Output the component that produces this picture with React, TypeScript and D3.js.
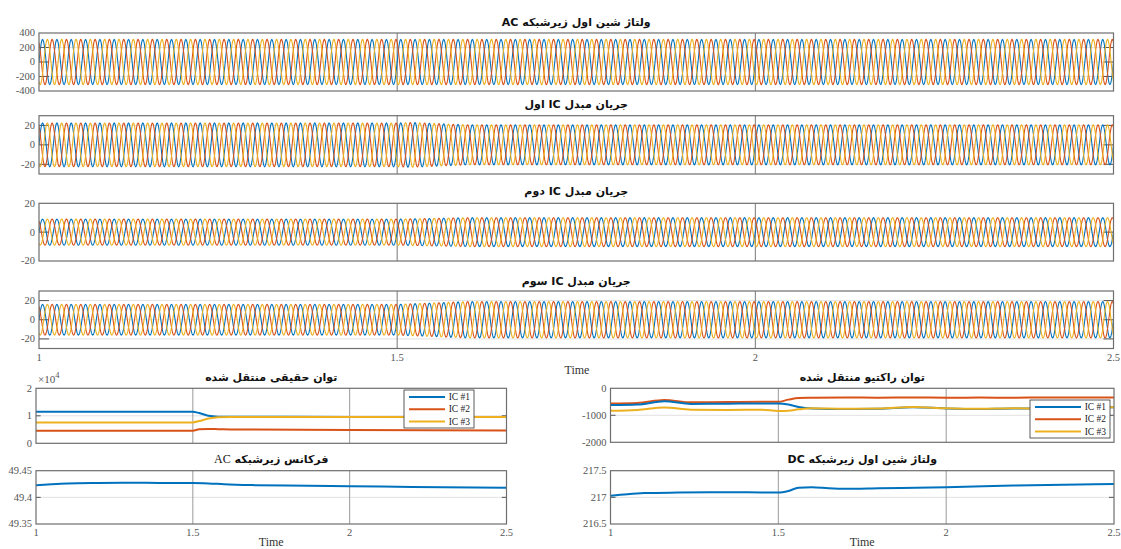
import React from 'react';
import * as d3 from 'd3';

const W = 1121;
const H = 549;
const BLUE = '#0072BD';
const RED = '#D95319';
const YEL = '#EDB120';
const NUM_FONT = '"Liberation Serif", "DejaVu Serif", serif';
const TITLE_FONT = '"DejaVu Sans", "Noto Sans", sans-serif';

// time axis
const timeDomain = [1, 2.5];
const xTicks = [1, 1.5, 2, 2.5];
const xTickLabels = ['1', '1.5', '2', '2.5'];

// three phase waveforms: 50 Hz, phase of blue / red / yellow (deg)
const gridFreq = 50;
const phaseDeg = [0, 120, -120];
const phaseColors = [BLUE, RED, YEL];

// amplitude envelopes (time, peak)
const busVoltEnvT = [1, 2.5];
const busVoltEnvA = [311, 311];
const ic1EnvT = [1, 1.5, 1.52, 1.6, 2.5];
const ic1EnvA = [22.5, 22.5, 23, 20.5, 20.5];
const ic2EnvT = [1, 1.5, 1.6, 2.5];
const ic2EnvA = [9, 9, 10, 10];
const ic3EnvT = [1, 1.5, 1.6, 2.5];
const ic3EnvA = [16, 16, 19, 19];

// real power transferred (W)
const pTime = [1, 1.5, 1.52, 1.55, 1.58, 1.62, 2, 2.5];
const pIc1 = [11500, 11450, 11000, 10000, 9700, 9650, 9600, 9550];
const pIc2 = [4600, 4600, 5100, 5200, 5150, 5050, 4850, 4700];
const pIc3 = [7600, 7600, 8100, 9000, 9500, 9600, 9600, 9550];

// reactive power transferred (VAr)
const qTime = [1, 1.08, 1.16, 1.24, 1.35, 1.45, 1.5, 1.53, 1.56, 1.6, 1.7, 1.8, 1.9, 2.0, 2.1, 2.2, 2.3, 2.4, 2.5];
const qIc1 = [-620, -600, -480, -580, -570, -560, -560, -600, -690, -745, -765, -755, -700, -745, -765, -745, -755, -725, -705];
const qIc2 = [-560, -540, -430, -520, -510, -500, -500, -420, -360, -350, -340, -350, -340, -350, -345, -350, -340, -345, -340];
const qIc3 = [-830, -800, -710, -790, -800, -790, -840, -830, -780, -740, -760, -750, -690, -740, -760, -740, -750, -720, -700];

// AC sub-grid frequency (Hz)
const fTime = [1, 1.05, 1.1, 1.2, 1.3, 1.4, 1.5, 1.55, 1.6, 1.7, 1.8, 2, 2.2, 2.5];
const fVal = [49.4225, 49.4245, 49.426, 49.427, 49.4275, 49.427, 49.427, 49.4262, 49.4245, 49.4228, 49.422, 49.421, 49.4195, 49.418];

// DC sub-grid bus voltage (V)
const vdcTime = [1, 1.05, 1.1, 1.2, 1.3, 1.4, 1.5, 1.53, 1.56, 1.6, 1.65, 1.7, 1.8, 2, 2.2, 2.5];
const vdcVal = [217.03, 217.06, 217.08, 217.09, 217.095, 217.095, 217.09, 217.12, 217.18, 217.19, 217.17, 217.16, 217.17, 217.19, 217.22, 217.25];

const legendNames = ['IC #1', 'IC #2', 'IC #3'];

type Box = { x0: number; x1: number; y0: number; y1: number };

const sampleWave = (envT: number[], envA: number[], phase: number) => {
  const amp = d3.scaleLinear().domain(envT).range(envA).clamp(true);
  const n = 3000;
  return d3.range(n + 1).map((i) => {
    const t = 1 + (1.5 * i) / n;
    return [t, amp(t) * Math.sin(2 * Math.PI * gridFreq * (t - 1) + (phase * Math.PI) / 180)] as [number, number];
  });
};

const Axes = ({ id, box, yDomain, yTicks, yLabels, tickLen, vColor, showX, children }: any) => {
  const x = d3.scaleLinear().domain(timeDomain).range([box.x0, box.x1]);
  const y = d3.scaleLinear().domain(yDomain).range([box.y1, box.y0]);
  const inner = yTicks.filter((v: number) => v > yDomain[0] && v < yDomain[1]);
  return (
    <g>
      <defs>
        <clipPath id={id}>
          <rect x={box.x0} y={box.y0} width={box.x1 - box.x0} height={box.y1 - box.y0} />
        </clipPath>
      </defs>
      <rect x={box.x0} y={box.y0} width={box.x1 - box.x0} height={box.y1 - box.y0} fill="#fff" />
      {inner.map((v: number) => (
        <line key={'h' + v} x1={box.x0} x2={box.x1} y1={y(v)} y2={y(v)} stroke="#e2e2e2" strokeWidth={1} />
      ))}
      {[1.5, 2].map((v) => (
        <line key={'v' + v} x1={x(v)} x2={x(v)} y1={box.y0} y2={box.y1} stroke={vColor} strokeWidth={1} />
      ))}
      {inner.map((v: number) => (
        <g key={'t' + v}>
          <line x1={box.x0} x2={box.x0 + tickLen} y1={y(v)} y2={y(v)} stroke="#555" />
          <line x1={box.x1} x2={box.x1 - tickLen} y1={y(v)} y2={y(v)} stroke="#555" />
        </g>
      ))}
      <g clipPath={`url(#${id})`}>{children(x, y)}</g>
      <rect x={box.x0} y={box.y0} width={box.x1 - box.x0} height={box.y1 - box.y0} fill="none" stroke="#6e6e6e" strokeWidth={1.2} />
      {yTicks.map((v: number, i: number) => (
        <text key={'l' + v} x={box.x0 - 4} y={y(v)} dy="0.32em" textAnchor="end" fontFamily={NUM_FONT} fontSize={10.5} fill="#555">
          {yLabels[i]}
        </text>
      ))}
      {showX &&
        xTicks.map((v, i) => (
          <text key={'x' + v} x={x(v)} y={box.y1 + 12} textAnchor="middle" fontFamily={NUM_FONT} fontSize={10.5} fill="#555">
            {xTickLabels[i]}
          </text>
        ))}
    </g>
  );
};

const Title = ({ x, y, children }: any) => (
  <text x={x} y={y} dy="0.35em" textAnchor="middle" fontFamily={TITLE_FONT} fontWeight="bold" fontSize={11} fill="#111" style={{ direction: 'rtl', unicodeBidi: 'embed' } as any}>
    {children}
  </text>
);

const Legend = ({ x, y, w }: any) => (
  <g>
    <rect x={x} y={y} width={w} height={38} fill="#fff" stroke="#333" strokeWidth={0.8} />
    {legendNames.map((n, i) => (
      <g key={n}>
        <line x1={x + 5} x2={x + w - 29} y1={y + 7 + i * 12.3} y2={y + 7 + i * 12.3} stroke={phaseColors[i]} strokeWidth={2} />
        <text x={x + w - 4} y={y + 7 + i * 12.3} dy="0.33em" textAnchor="end" fontFamily={NUM_FONT} fontSize={9.5} fill="#222">
          {n}
        </text>
      </g>
    ))}
  </g>
);

const wavePanels = [
  { id: 'w1', box: { x0: 39, x1: 1113.5, y0: 33, y1: 91 }, dom: [-400, 400], ticks: [-400, -200, 0, 200, 400], env: [busVoltEnvT, busVoltEnvA], title: 'ولتاژ شین اول زیرشبکه AC', ty: 22 },
  { id: 'w2', box: { x0: 39, x1: 1113.5, y0: 115.7, y1: 174 }, dom: [-30, 30], ticks: [-20, 0, 20], env: [ic1EnvT, ic1EnvA], title: 'جریان مبدل IC اول', ty: 104.5 },
  { id: 'w3', box: { x0: 39, x1: 1113.5, y0: 203.3, y1: 261 }, dom: [-20, 20], ticks: [-20, 0, 20], env: [ic2EnvT, ic2EnvA], title: 'جریان مبدل IC دوم', ty: 191 },
  { id: 'w4', box: { x0: 39, x1: 1113.5, y0: 291, y1: 348.5 }, dom: [-30, 30], ticks: [-20, 0, 20], env: [ic3EnvT, ic3EnvA], title: 'جریان مبدل IC سوم', ty: 281 },
];

const boxP: Box = { x0: 36, x1: 506.5, y0: 388.3, y1: 443.3 };
const boxQ: Box = { x0: 610.5, x1: 1114, y0: 388.3, y1: 442.3 };
const boxF: Box = { x0: 36, x1: 506.5, y0: 470.7, y1: 524 };
const boxV: Box = { x0: 610.5, x1: 1114, y0: 470.7, y1: 524 };

const seriesPath = (x: any, y: any, ts: number[], vs: number[]) =>
  d3
    .line<number>()
    .x((_, i) => x(ts[i]))
    .y((v) => y(v))
    .curve(d3.curveMonotoneX)(vs) || '';

export default function App() {
  const waves = wavePanels.map((p) => phaseDeg.map((ph) => sampleWave(p.env[0], p.env[1], ph)));
  return (
    <svg width={W} height={H} style={{ position: 'absolute', left: 0, top: 0, background: '#fff' }}>
      <rect width={W} height={H} fill="#fff" />
      {wavePanels.map((p, k) => (
        <g key={p.id}>
          <Title x={(p.box.x0 + p.box.x1) / 2} y={p.ty}>{p.title}</Title>
          <Axes id={p.id} box={p.box} yDomain={p.dom} yTicks={p.ticks} yLabels={p.ticks.map(String)} tickLen={10} vColor="#777" showX={k === 3}>
            {(x: any, y: any) => {
              const line = d3.line<[number, number]>().x((d) => x(d[0])).y((d) => y(d[1]));
              return waves[k].map((pts, j) => (
                <path key={j} d={line(pts) || ''} fill="none" stroke={phaseColors[j]} strokeWidth={1.1} />
              ));
            }}
          </Axes>
        </g>
      ))}
      <text x={577} y={374} textAnchor="middle" fontFamily={NUM_FONT} fontSize={12} fill="#333">Time</text>

      {/* real power */}
      <Title x={(boxP.x0 + boxP.x1) / 2} y={377}>توان حقیقی منتقل شده</Title>
      <Axes id="p" box={boxP} yDomain={[0, 20000]} yTicks={[0, 10000, 20000]} yLabels={['0', '1', '2']} tickLen={4.7} vColor="#9a9a9a" showX={false}>
        {(x: any, y: any) =>
          [pIc1, pIc2, pIc3].map((s, j) => (
            <path key={j} d={seriesPath(x, y, pTime, s)} fill="none" stroke={phaseColors[j]} strokeWidth={2} />
          ))
        }
      </Axes>
      <text x={38} y={383} fontFamily={NUM_FONT} fontSize={11} fill="#555">
        ×10<tspan dy={-5} fontSize={8.5}>4</tspan>
      </text>
      <Legend x={404} y={390} w={70} />

      {/* reactive power */}
      <Title x={(boxQ.x0 + boxQ.x1) / 2} y={377}>توان راکتیو منتقل شده</Title>
      <Axes id="q" box={boxQ} yDomain={[-2000, 0]} yTicks={[-2000, -1000, 0]} yLabels={['-2000', '-1000', '0']} tickLen={5} vColor="#9a9a9a" showX={false}>
        {(x: any, y: any) =>
          [qIc2, qIc1, qIc3].map((s, j) => (
            <path key={j} d={seriesPath(x, y, qTime, s)} fill="none" stroke={[RED, BLUE, YEL][j]} strokeWidth={2} />
          ))
        }
      </Axes>
      <Legend x={1030} y={400} w={80} />

      {/* AC frequency */}
      <Title x={(boxF.x0 + boxF.x1) / 2} y={459}>
        فرکانس زیرشبکه <tspan fontFamily={NUM_FONT} fontWeight="normal" fontSize={12}>AC</tspan>
      </Title>
      <Axes id="f" box={boxF} yDomain={[49.35, 49.45]} yTicks={[49.35, 49.4, 49.45]} yLabels={['49.35', '49.4', '49.45']} tickLen={4.7} vColor="#9a9a9a" showX={true}>
        {(x: any, y: any) => <path d={seriesPath(x, y, fTime, fVal)} fill="none" stroke={BLUE} strokeWidth={2} />}
      </Axes>
      <text x={(boxF.x0 + boxF.x1) / 2} y={546} textAnchor="middle" fontFamily={NUM_FONT} fontSize={12} fill="#333">Time</text>

      {/* DC voltage */}
      <Title x={(boxV.x0 + boxV.x1) / 2} y={459}>ولتاژ شین اول زیرشبکه DC</Title>
      <Axes id="v" box={boxV} yDomain={[216.5, 217.5]} yTicks={[216.5, 217, 217.5]} yLabels={['216.5', '217', '217.5']} tickLen={5} vColor="#9a9a9a" showX={true}>
        {(x: any, y: any) => <path d={seriesPath(x, y, vdcTime, vdcVal)} fill="none" stroke={BLUE} strokeWidth={2} />}
      </Axes>
      <text x={(boxV.x0 + boxV.x1) / 2} y={546} textAnchor="middle" fontFamily={NUM_FONT} fontSize={12} fill="#333">Time</text>
    </svg>
  );
}
